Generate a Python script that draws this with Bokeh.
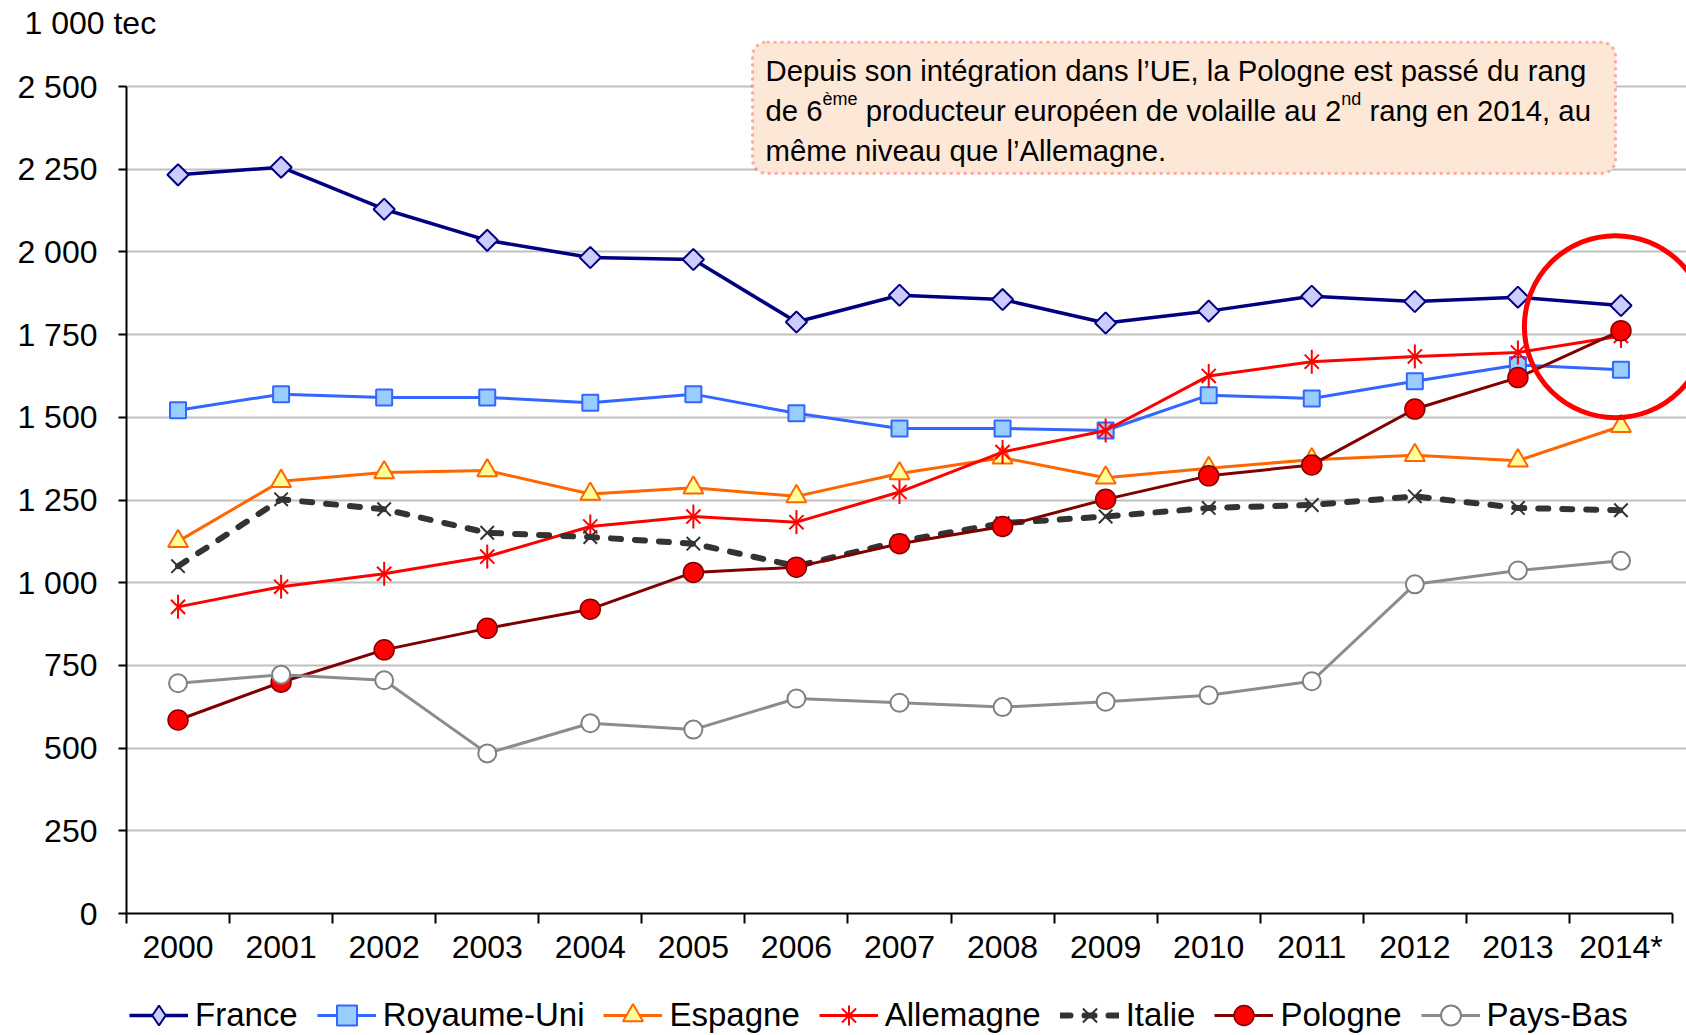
import math
from bokeh.plotting import figure
from bokeh.layouts import column
from bokeh.models import (FixedTicker, Legend, LegendItem, Label, BoxAnnotation, Range1d, Title)
from bokeh.embed import file_html
from bokeh.resources import INLINE

# ---------------- data ----------------
years = ["2000", "2001", "2002", "2003", "2004", "2005", "2006", "2007",
         "2008", "2009", "2010", "2011", "2012", "2013", "2014*"]
france = [2233, 2256, 2129, 2035, 1983, 1977, 1788, 1869, 1856, 1785, 1821, 1866, 1850, 1863, 1838]
royaume_uni = [1521, 1570, 1560, 1560, 1544, 1570, 1512, 1466, 1466, 1460, 1567, 1557, 1609, 1658, 1644]
espagne = [1125, 1307, 1333, 1339, 1268, 1287, 1261, 1330, 1378, 1317, 1346, 1372, 1385, 1369, 1473]
allemagne = [927, 988, 1027, 1079, 1170, 1200, 1183, 1274, 1395, 1460, 1625, 1668, 1684, 1696, 1746]
italie = [1050, 1252, 1222, 1151, 1138, 1118, 1050, 1125, 1180, 1200, 1226, 1235, 1261, 1226, 1219]
pologne = [585, 699, 797, 862, 920, 1031, 1047, 1118, 1170, 1252, 1323, 1356, 1525, 1620, 1762]
pays_bas = [696, 722, 705, 484, 575, 556, 650, 637, 624, 640, 660, 702, 995, 1037, 1066]
y_ticks = [0, 250, 500, 750, 1000, 1250, 1500, 1750, 2000, 2250, 2500]
y_tick_labels = ["0", "250", "500", "750", "1 000", "1 250", "1 500", "1 750", "2 000", "2 250", "2 500"]
unit_label = "1 000 tec"
highlight = (13.946, 1774)  # the circled 2014 point (Pologne ~ Allemagne)

x = list(range(len(years)))

# ---------------- geometry (page pixels) ----------------
W, H = 1686, 1035
H_LEG = 60                 # height of the legend strip
H_MAIN = H - H_LEG
LEFT = 126                 # frame left
TOP = 40                   # frame top
BOTTOM = 913               # frame bottom (value 0)
Y2500 = 86                 # row of 2500
PPU = (BOTTOM - Y2500) / 2500.0
CAT_PX = (1672 - LEFT) / 15.0
x_end = -0.5 + (W - LEFT) / CAT_PX
y_end = 2500 + (Y2500 - TOP) / PPU

def xd(px):
    return -0.5 + (px - LEFT) / CAT_PX

def yd(py):
    return (BOTTOM - py) / PPU

FONT = "Liberation Sans"

p = figure(width=W, height=H_MAIN, output_backend="svg", toolbar_location=None,
           x_range=Range1d(-0.5, x_end), y_range=Range1d(0, y_end),
           min_border_left=LEFT, min_border_right=0, min_border_top=TOP,
           min_border_bottom=H_MAIN - BOTTOM, title=None)
p.outline_line_color = None
p.background_fill_color = "white"
p.border_fill_color = "white"

p.add_layout(Title(text=unit_label, align="left", offset=24 - LEFT, standoff=0,
                   text_font=FONT, text_font_size="32px", text_font_style="normal",
                   text_color="black", vertical_align="bottom"), "above")

# axes
xa = p.xaxis[0]
xa.ticker = FixedTicker(ticks=x, minor_ticks=[i - 0.5 for i in range(len(years) + 1)])
xa.major_label_overrides = {i: years[i] for i in x}
xa.bounds = (-0.5, len(years) - 0.5)
xa.major_tick_out = 0
xa.major_tick_in = 0
xa.minor_tick_out = 10
xa.minor_tick_in = 0
xa.minor_tick_line_color = "black"
xa.minor_tick_line_width = 2
xa.axis_line_color = "black"
xa.axis_line_width = 2
xa.major_label_text_font = FONT
xa.major_label_text_font_size = "32px"
xa.major_label_text_color = "black"
xa.major_label_standoff = 5

ya = p.yaxis[0]
ya.ticker = FixedTicker(ticks=y_ticks, minor_ticks=[])
ya.major_label_overrides = {t: l for t, l in zip(y_ticks, y_tick_labels)}
ya.bounds = (0, 2500)
ya.major_tick_out = 8
ya.major_tick_in = 0
ya.major_tick_line_width = 2
ya.minor_tick_line_color = None
ya.axis_line_color = "black"
ya.axis_line_width = 2
ya.major_label_text_font = FONT
ya.major_label_text_font_size = "32px"
ya.major_label_text_color = "black"
ya.major_label_standoff = 21

p.xgrid.visible = False
p.ygrid[0].bounds = (-0.5, len(years) - 0.5)
p.ygrid[0].grid_line_color = "#C0C0C0"
p.ygrid[0].grid_line_width = 2

# legend strip (separate figure; its copies of the series lie outside its view)
pl = figure(width=W, height=H_LEG, output_backend="svg", toolbar_location=None,
            x_axis_type=None, y_axis_type=None, min_border=0, title=None,
            x_range=Range1d(-100, -99), y_range=Range1d(-100, -99))
pl.outline_line_color = None
pl.grid.visible = False
pl.background_fill_color = "white"
pl.border_fill_color = "white"

items = []

def add_series(name, ys, line_color, line_width, markers, legend_markers=None,
               line_dash="solid", line_cap="butt"):
    style = dict(line_color=line_color, line_width=line_width, line_dash=line_dash,
                 line_cap=line_cap, line_join="round")
    p.line(x, ys, **style)
    rs = [pl.line(x, ys, **style)]
    for m in markers:
        p.scatter(x, ys, **m)
    for m in (legend_markers or markers):
        rs.append(pl.scatter(x, ys, **m))
    items.append(LegendItem(label=name, renderers=rs))

add_series("France", france, "#000080", 3.5,
           [dict(marker="square", size=15, angle=math.pi / 4, fill_color="#CCCCFF",
                 line_color="#000080", line_width=2)],
           [dict(marker="diamond", size=22, fill_color="#CCCCFF",
                 line_color="#000080", line_width=2)])
add_series("Royaume-Uni", royaume_uni, "#3366FF", 3,
           [dict(marker="square", size=16, fill_color="#99CCFF",
                 line_color="#3366FF", line_width=2)])
add_series("Espagne", espagne, "#FF6600", 3,
           [dict(marker="triangle", size=20, fill_color="#FFFF99",
                 line_color="#FF6600", line_width=2)])
add_series("Allemagne", allemagne, "#FF0000", 3,
           [dict(marker="x", size=20, line_color="#FF0000", line_width=2),
            dict(marker="dash", size=24, angle=math.pi / 2, line_color="#FF0000", line_width=2)],
           [dict(marker="asterisk", size=22, line_color="#FF0000", line_width=2)])
add_series("Italie", italie, "#333333", 6,
           [dict(marker="x", size=19, line_color="#333333", line_width=2)],
           line_dash="10 14", line_cap="round")
add_series("Pologne", pologne, "#800000", 3,
           [dict(marker="circle", size=20, fill_color="#FF0000",
                 line_color="#800000", line_width=1.5)])
add_series("Pays-Bas", pays_bas, "#8C8C8C", 3,
           [dict(marker="circle", size=18, fill_color="white",
                 line_color="#808080", line_width=2)])

# highlight circle
p.scatter([highlight[0]], [highlight[1]], marker="circle", size=182,
          fill_color=None, line_color="#FF0000", line_width=5)

legend = Legend(items=items, orientation="horizontal", location=(3, -5),
                label_text_font=FONT, label_text_font_size="33px",
                label_text_color="black", label_height=30, glyph_height=50,
                glyph_width=59, label_standoff=7, spacing=19, padding=0, margin=0,
                border_line_color=None, background_fill_alpha=0)
pl.add_layout(legend, "center")

# annotation box
p.add_layout(BoxAnnotation(left=xd(752), right=xd(1615), top=yd(41.5), bottom=yd(173),
                           fill_color="#FDE8D7", fill_alpha=1, line_color="#FF0000",
                           line_width=3, line_dash="3 4", border_radius=14))

CW = {' ': 278, ',': 278, '.': 278, '\u2019': 222, 'a': 556, 'b': 556, 'c': 500, 'd': 556,
      'e': 556, '\u00e9': 556, '\u00e8': 556, '\u00ea': 556, 'f': 278, 'g': 556, 'h': 556,
      'i': 222, 'j': 222, 'k': 500, 'l': 222, 'm': 833, 'n': 556, 'o': 556, 'p': 556,
      'q': 556, 'r': 333, 's': 500, 't': 278, 'u': 556, 'v': 500, 'w': 722, 'x': 500,
      'y': 500, 'z': 500, 'A': 667, 'D': 722, 'E': 667, 'P': 667, 'U': 722}
for d in "0123456789":
    CW[d] = 556

def tw(s, size):
    return sum(CW.get(c, 556) for c in s) / 1000.0 * size

MAIN, SUP, RAISE = 29.3, 18, 11
TX = 765
baselines = [69.9, 109.7, 149.5]
note_lines = [
    [("Depuis son int\u00e9gration dans l\u2019UE, la Pologne est pass\u00e9 du rang", False)],
    [("de 6", False), ("\u00e8me", True), (" producteur europ\u00e9en de volaille au 2", False),
     ("nd", True), (" rang en 2014, au", False)],
    [("m\u00eame niveau que l\u2019Allemagne.", False)],
]
for bl, parts in zip(baselines, note_lines):
    off = 0.0
    for txt, sup in parts:
        size = SUP if sup else MAIN
        lead = len(txt) - len(txt.lstrip(" "))
        off += tw(" " * lead, size)
        body = txt.lstrip(" ")
        p.add_layout(Label(x=xd(TX), y=yd(bl - (RAISE if sup else 0)), x_offset=off,
                           text=body, text_font=FONT, text_font_size=f"{size}px",
                           text_baseline="alphabetic", text_align="left",
                           text_color="black"))
        off += tw(body, size)

layout = column(p, pl, spacing=0)
open("out.html", "w").write(file_html(layout, INLINE))
